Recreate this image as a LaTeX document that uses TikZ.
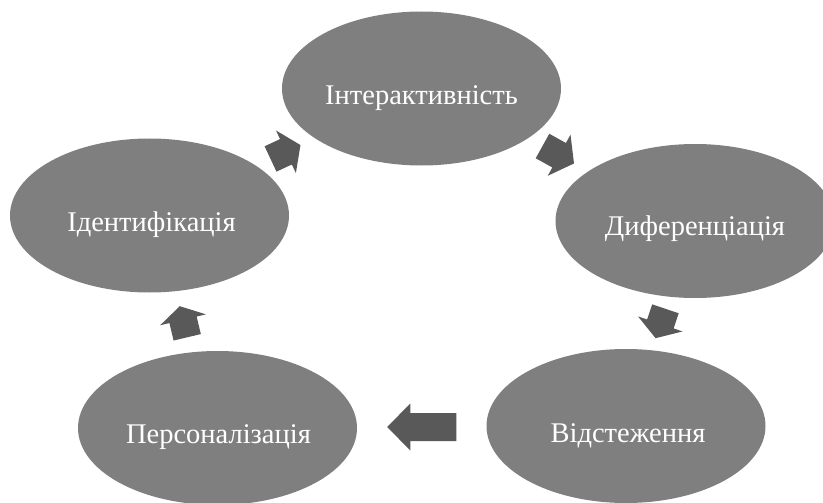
\documentclass[tikz,border=0pt]{standalone}
\usepackage{fontspec}
\setmainfont{Liberation Serif}
\usetikzlibrary{calc,shapes.geometric}
\definecolor{ovalgray}{HTML}{7F7F7F}
\definecolor{arrowgray}{HTML}{595959}
\tikzset{
  oval/.style={ellipse, fill=ovalgray, minimum width=279pt, minimum height=154pt, inner sep=0pt},
  ovaltext/.style={anchor=base, text=white, font=\fontsize{28.5}{31}\selectfont, inner sep=0pt},
  cyclearrow/.style={fill=arrowgray},
}
% #1 from node, #2 to node, #3 angle, #4 total length, #5 head length
\newcommand\cycarrow[5]{%
  \fill[cyclearrow, shift={($(#1)!0.5!(#2)$)}, rotate=#3]
    ({-#4/2},14) -- ({#4/2-#5},14) -- ({#4/2-#5},23.5) -- ({#4/2},0)
    -- ({#4/2-#5},-23.5) -- ({#4/2-#5},-14) -- ({-#4/2},-14) -- cycle;}
\begin{document}
\begin{tikzpicture}[x=1pt, y=-1pt]
  \useasboundingbox (0,0) rectangle (823,503);
  \clip (0,0) rectangle (823,503);
  \node[oval] (e1) at (421.5,88.5) {};
  \node[oval] (e2) at (695,221) {};
  \node[oval] (e3) at (626,426) {};
  \node[oval] (e4) at (217.5,428) {};
  \node[oval] (e5) at (149.5,215.5) {};
  \node[ovaltext] (t1) at ($(e1.center)+(0,16)$) {Інтерактивність};
  \node[ovaltext] (t2) at ($(e2.center)+(0,14)$) {Диференціація};
  \node[ovaltext] (t3) at ($(e3.center)+(2,16.5)$) {Відстеження};
  \node[ovaltext] (t4) at ($(e4.center)+(1,15)$) {Персоналізація};
  \node[ovaltext] (t5) at ($(e5.center)+(2,16)$) {Ідентифікація};
  \cycarrow{e5}{e1}{25}{33}{16}
  \cycarrow{e1}{e2}{-29}{36}{17}
  \cycarrow{e2}{e3}{-108.6}{31}{15}
  \cycarrow{e3}{e4}{180}{69}{23}
  \cycarrow{e4}{e5}{103.4}{32}{14}
\end{tikzpicture}
\end{document}
